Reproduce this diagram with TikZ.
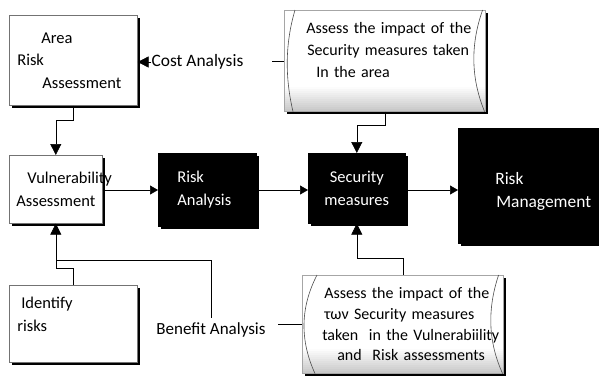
\documentclass[tikz,border=0pt]{standalone}
\usepackage{fontspec}
\setmainfont{Carlito}
\usetikzlibrary{arrows.meta,shadows}
\hyphenpenalty=10000
\tikzset{
  box/.style={draw=black!55, fill=white, line width=0.6pt, anchor=north west, align=left,
    drop shadow={shadow xshift=2.5pt, shadow yshift=-2.5pt, fill=black, opacity=1}},
  darkbox/.style={box, fill=black, draw=black, text=white},
  docbox/.style={box, draw=black!35, path picture={
      \foreach \k in {0,...,11}{
        \pgfmathsetmacro\gr{21-1.8*\k}
        \fill[black!\gr] ([yshift={2*\k*1pt}]path picture bounding box.south west)
          rectangle ([yshift={2*\k*1pt+2.3pt}]path picture bounding box.south east);
      }}},
  doccurve/.style={draw=black!70, line width=0.6pt},
  txt/.style={inner sep=0pt, font=\fontsize{17.4}{22}\selectfont},
  link/.style={draw=black, line width=0.6pt},
  arr/.style={link, -{Triangle[length=11pt,width=11pt]}},
  sarr/.style={link, -{Triangle[length=8pt,width=9pt]}},
}
\begin{document}
\begin{tikzpicture}[x=1pt, y=-1pt, font=\fontsize{16.5}{22.5}\selectfont]
  \useasboundingbox (0,0) rectangle (599,378);
  % left column
  \node[box, minimum width=128pt, minimum height=90pt, inner xsep=8pt, text width=112pt] (area) at (9,15)
    {\hspace*{24pt}Area\\Risk\\\hspace*{25pt}Assessment};
  \node[box, minimum width=93pt, minimum height=68pt, inner xsep=7pt, text width=79pt] (vuln) at (9,155)
    {\hspace*{11pt}Vulnerability\\Assessment};
  \node[box, minimum width=128pt, minimum height=77pt, inner xsep=8pt, text width=112pt] (ident) at (9,285)
    {\hspace*{4pt}Identify\\risks\rule[-19pt]{0pt}{0pt}};
  % black boxes
  \node[darkbox, minimum width=98pt, minimum height=73pt, inner xsep=19pt, text width=60pt] (ra) at (158,153)
    {Risk\\Analysis};
  \node[darkbox, minimum width=97pt, minimum height=70pt, inner xsep=5pt, text width=87pt, align=center] (sec) at (308,153)
    {Security\\measures};
  \node[darkbox, minimum width=141pt, minimum height=115pt, inner xsep=0pt, text width=141pt,
    font=\fontsize{17.4}{23}\selectfont] (rm) at (458,128)
    {\hspace*{37pt}\rule{0pt}{24pt}Risk\\\hspace*{38pt}Management};
  % documents
  \node[docbox, minimum width=201pt, minimum height=101pt, inner xsep=0pt, text width=201pt,
    font=\fontsize{16}{22}\selectfont] (doca) at (284,10)
    {\hspace*{22pt}Assess the impact of the\\\mbox{\hspace*{23pt}Security measures taken}\\\hspace*{32pt}In the area\rule[-22pt]{0pt}{0pt}};
  \draw[doccurve] ([xshift=11pt]doca.north west) .. controls ([xshift=1pt,yshift=-34pt]doca.north west)
    and ([xshift=1pt,yshift=34pt]doca.south west) .. ([xshift=9pt]doca.south west);
  \draw[doccurve] ([xshift=-3pt]doca.north east) .. controls ([xshift=-15pt,yshift=-34pt]doca.north east)
    and ([xshift=-15pt,yshift=34pt]doca.south east) .. ([xshift=-1pt]doca.south east);
  \node[docbox, minimum width=201pt, minimum height=98pt, inner xsep=0pt, text width=201pt,
    font=\fontsize{16}{20.7}\selectfont] (docb) at (302,275)
    {\hspace*{22pt}Assess the impact of the\\\hspace*{22pt}των Security measures\\\mbox{\hspace*{20pt}taken\ \ in the Vulnerabiility}\\\hspace*{35pt}and\ \ Risk assessments};
  \draw[doccurve] ([xshift=15pt]docb.north west) .. controls ([xshift=-2pt,yshift=-33pt]docb.north west)
    and ([xshift=-2pt,yshift=33pt]docb.south west) .. ([xshift=13pt]docb.south west);
  \draw[doccurve] ([xshift=-5pt]docb.north east) .. controls ([xshift=-16pt,yshift=-33pt]docb.north east)
    and ([xshift=-16pt,yshift=33pt]docb.south east) .. ([xshift=-1pt]docb.south east);
  % labels
  \node[txt] (cost) at (197.5,62) {Cost Analysis};
  \node[txt, font=\fontsize{17}{22}\selectfont] (ben) at (211,330) {Benefit Analysis};
  % connectors
  \draw[arr] (area.south) -- ++(0,15) -| (vuln.north);
  \draw[arr] (cost.west) -- (area.east |- cost.west);
  \draw[link, shorten >=28pt] (doca.west) -- (doca.west -| cost.east);
  \draw[sarr] (vuln.east |- 0,190) -- (ra.west |- 0,190);
  \draw[sarr] (ra.east |- 0,190) -- (sec.west |- 0,190);
  \draw[sarr] (sec.east |- 0,190) -- (rm.west |- 0,190);
  \draw[arr] (doca.south) -- ++(0,14) -| (sec.north);
  \draw[arr] (docb.north) -- ++(0,-17) -| (sec.south);
  \draw[link, shorten >=12pt] (docb.west) -- (docb.west -| ben.east);
  \draw[link, shorten <=5pt] (ben.north) |- ([yshift=-37pt]vuln.south);
  \draw[arr] (ident.north) -- ++(0,-17) -| (vuln.south);
\end{tikzpicture}
\end{document}
